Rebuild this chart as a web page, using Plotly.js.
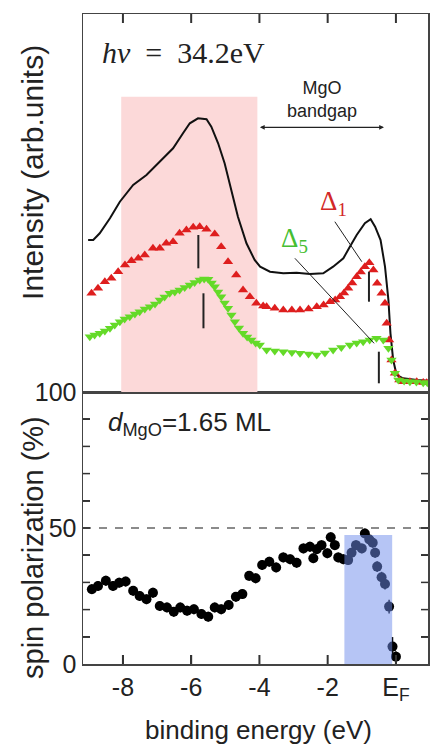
<!DOCTYPE html>
<html>
<head>
<meta charset="utf-8">
<script src="https://cdn.plot.ly/plotly-3.0.1.min.js"></script>
<style>html,body{margin:0;padding:0;background:#fff;}#chart{width:431px;height:749px;}</style>
</head>
<body>
<div id="chart"></div>
<script>
// ---- Data (binding energy in eV) ----
// Top panel: intensity, arbitrary units
var E_total = [-9.02,-8.87,-8.68,-8.38,-8.09,-7.70,-7.31,-6.92,-6.53,-6.24,-6.04,-5.80,-5.55,-5.41,-5.21,-5.02,-4.82,-4.63,-4.38,-4.14,-3.98,-3.69,-3.30,-2.91,-2.52,-2.13,-1.84,-1.54,-1.35,-1.15,-0.91,-0.74,-0.61,-0.45,-0.32,-0.22,-0.16,-0.08,0.02,0.21,0.61,0.94];
var I_total = [152,152,158.7,173.7,190.3,207,217,230.3,243.7,258.7,268.7,273.7,272.7,265.3,248.7,228.7,202,175.3,148.7,132,125.3,120.3,118.7,119.3,118,118.7,125.3,133.7,145.3,157,168.7,172.7,165.3,152,125.3,92,58.7,32,17,13.7,12,11.3];

var E_delta1 = [-8.92,-8.73,-8.53,-8.34,-8.14,-7.94,-7.75,-7.55,-7.36,-7.12,-6.92,-6.73,-6.53,-6.34,-6.14,-5.94,-5.75,-5.55,-5.31,-5.12,-4.92,-4.68,-4.48,-4.28,-4.09,-3.89,-3.79,-3.55,-3.30,-3.05,-2.81,-2.56,-2.32,-2.12,-1.93,-1.78,-1.64,-1.52,-1.40,-1.28,-1.15,-1.03,-0.91,-0.78,-0.66,-0.55,-0.42,-0.32,-0.27,-0.20,-0.13,-0.03,0.10,0.21,0.41,0.61,0.80,0.90];
var I_delta1 = [98.7,103.7,110.3,113.7,120.3,127,131.3,133.7,137,143.7,143.7,148.7,150.3,158.7,162,164.7,165.3,162.7,158,145.3,130.3,117,102,95.3,88.7,86,85.3,83.7,82,82,82,83,85.3,87,90.3,92,95.3,99,103.7,109,115.3,120,125.3,129.3,122,108.7,98.7,88.7,68.7,52,32,18.7,12,10.3,10.3,10.3,9.5,9.3];

var E_delta5 = [-8.97,-8.83,-8.68,-8.53,-8.38,-8.24,-8.09,-7.95,-7.80,-7.65,-7.51,-7.36,-7.21,-7.06,-6.92,-6.78,-6.63,-6.48,-6.34,-6.19,-6.04,-5.90,-5.75,-5.62,-5.50,-5.40,-5.31,-5.21,-5.12,-5.02,-4.92,-4.82,-4.72,-4.60,-4.48,-4.36,-4.24,-4.11,-3.99,-3.79,-3.55,-3.30,-3.05,-2.81,-2.56,-2.32,-2.08,-1.84,-1.60,-1.35,-1.15,-0.96,-0.77,-0.57,-0.37,-0.22,-0.13,-0.03,0.07,0.24,0.41,0.60,0.80,0.92];
var I_delta5 = [55.3,57,58.7,61,63.7,67,70.3,73,75.3,78,80.3,83,85.3,88,92,95,98.7,100,102,104.5,107,109.5,112,113,112.7,109,105.3,100,95.3,89,83.7,77,70.3,64,58.7,55,52,49,47,42,41,40.3,39.5,38.7,38,37,39,42,44.5,47,49,50.3,52,53.7,52,43.7,32,18.7,12,11,10.3,10,9.3,9.3];

// Bottom panel: spin polarization (%)
var E_spin = [-8.91,-8.73,-8.50,-8.29,-8.11,-7.92,-7.70,-7.51,-7.31,-7.12,-6.92,-6.71,-6.51,-6.32,-6.12,-5.92,-5.70,-5.50,-5.31,-5.12,-4.90,-4.69,-4.50,-4.30,-4.11,-3.92,-3.71,-3.51,-3.30,-3.10,-2.91,-2.71,-2.52,-2.42,-2.32,-2.18,-2.01,-1.91,-1.79,-1.69,-1.54,-1.40,-1.30,-1.17,-1.00,-0.91,-0.78,-0.68,-0.61,-0.55,-0.42,-0.32,-0.20,-0.10,0.00];
var P_spin = [27.5,28.7,30.6,28.7,29.9,30.3,26.9,25.0,23.8,26.2,21.3,20.8,19.2,20.8,19.6,20.1,18.4,17.4,20.8,20.1,21.7,24.7,25.7,32.4,31.5,36.4,37.6,35.5,39.2,38.5,37.2,42.5,43.1,38.9,42.2,43.7,40.7,46.6,43.7,39.2,38.5,38.2,40.9,43.7,42.5,48.0,45.8,44.6,40.9,35.8,31.9,29.4,21.1,6.4,2.7];
var P_err = [1.8,1.8,1.8,1.8,1.8,1.8,1.8,1.8,1.8,1.8,1.8,1.8,1.8,1.8,1.8,1.8,1.8,1.8,1.8,1.8,1.8,1.8,1.8,1.8,1.8,1.8,1.8,1.8,1.8,1.8,1.8,1.8,1.8,1.8,1.8,1.8,1.8,1.8,1.8,1.8,1.8,1.8,1.8,1.8,1.8,1.8,1.8,1.8,1.8,2,2,2,2.5,3.5,2];

// Tick labels
var xTickVals = [-8,-6,-4,-2,0];
var xTickText = ['-8','-6','-4','-2','E<sub>F</sub>'];
var yTickVals = [0,10,20,30,40,50,60,70,80,90,100];
var yTickText = ['0',' ',' ',' ',' ','50',' ',' ',' ',' ','100'];

// Annotated regions and guide marks
var valenceBand = [-8.05,-4.06];      // pink region (eV)
var halfMetalWindow = [-1.51,-0.11];  // blue region (eV)
var halfMetalTop = 47.4;
var bandgap = [-4.03,-0.35];
var peakMarks = [ // [E, I_low, I_high]
  [-5.79,123.7,157], [-5.64,63.7,98.7], [-0.79,90.3,120.3], [-0.50,8.7,40.3]
];
var leaderD1 = [[-1.79,170.3],[-1.00,130.3]];
var leaderD5 = [[-2.96,133.7],[-0.64,48.7]];

var lineCol = '#444';
var tickCol = '#333';
var font = 'Liberation Sans, Arial, sans-serif';
var serif = 'Liberation Serif, Times New Roman, serif';
var nb = '\u00A0';

var split = 272/650;
var xr = [-9.17, 0.94];
var yTopRange = [0, 378];
var plotW = 431 - 83 - 3, botH = 272, topH = 378;

var traces = [
  {x:E_total, y:I_total, xaxis:'x2', yaxis:'y2', mode:'lines', line:{color:'#111', width:2}, hoverinfo:'skip'},
  {x:E_delta1, y:I_delta1, xaxis:'x2', yaxis:'y2', mode:'markers', marker:{symbol:'triangle-up', size:9, color:'rgb(222,30,30)'}},
  {x:E_delta5, y:I_delta5, xaxis:'x2', yaxis:'y2', mode:'markers', marker:{symbol:'triangle-down', size:9, color:'rgb(100,218,40)'}},
  {x:E_spin, y:P_spin, xaxis:'x', yaxis:'y', mode:'markers', marker:{symbol:'circle', size:10, color:'#000'},
   error_y:{type:'data', array:P_err, visible:true, color:'#000', thickness:1.5, width:0}}
];

var shapes = [
  {type:'rect', xref:'x2', yref:'y2', x0:valenceBand[0], x1:valenceBand[1], y0:0, y1:295.3, fillcolor:'rgb(252,217,217)', line:{width:0}, layer:'below'},
  {type:'rect', xref:'x', yref:'y', x0:halfMetalWindow[0], x1:halfMetalWindow[1], y0:0, y1:halfMetalTop, fillcolor:'rgb(110,140,235)', opacity:0.5, line:{width:0}, layer:'above'},
  {type:'line', xref:'paper', yref:'y', x0:0, x1:1, y0:50, y1:50, line:{color:'#666', width:1.5, dash:'8px,8px'}},
  {type:'line', xref:'x2', yref:'y2', x0:leaderD1[0][0], y0:leaderD1[0][1], x1:leaderD1[1][0], y1:leaderD1[1][1], line:{color:'#222', width:1}},
  {type:'line', xref:'x2', yref:'y2', x0:leaderD5[0][0], y0:leaderD5[0][1], x1:leaderD5[1][0], y1:leaderD5[1][1], line:{color:'#222', width:1}}
];
peakMarks.forEach(function(p){
  shapes.push({type:'line', xref:'x2', yref:'y2', x0:p[0], x1:p[0], y0:p[1], y1:p[2], line:{color:'#222', width:2}});
});
// Inward tick marks, placed at the axes' own tick values
var tkX = 9, tkY = 7;
xTickVals.forEach(function(v){
  shapes.push({type:'line', xref:'x', yref:'y', x0:v, x1:v, y0:0, y1:100*tkX/botH, line:{color:tickCol, width:2}, layer:'above'});
  shapes.push({type:'line', xref:'x2', yref:'y2', x0:v, x1:v, y0:yTopRange[1], y1:yTopRange[1]-(yTopRange[1]-yTopRange[0])*tkX/topH, line:{color:tickCol, width:2}, layer:'above'});
});
yTickVals.forEach(function(v){
  if (v === 0 || v === 100) return;
  shapes.push({type:'line', xref:'paper', yref:'y', x0:0, x1:tkY/plotW, y0:v, y1:v, line:{color:tickCol, width:1.5}, layer:'above'});
  shapes.push({type:'line', xref:'paper', yref:'y', x0:1-tkY/plotW, x1:1, y0:v, y1:v, line:{color:tickCol, width:1.5}, layer:'above'});
});

var annotations = [
  {xref:'x2', yref:'y2', x:-8.67, y:340, xanchor:'left', yanchor:'middle', showarrow:false,
   text:'<i>hν</i>'+nb+nb+'='+nb+nb+'34.2eV', font:{family:serif, size:30, color:'#222'}},
  {xref:'x2', yref:'y2', x:-2.18, y:293, xanchor:'center', yanchor:'middle', showarrow:false,
   text:'MgO<br>bandgap', font:{family:font, size:18, color:'#222'}},
  {xref:'x2', yref:'y2', axref:'x2', ayref:'y2', x:bandgap[1], y:264.7, ax:bandgap[0], ay:264.7, text:'',
   showarrow:true, arrowhead:2, startarrowhead:2, arrowside:'end+start', arrowsize:0.8, arrowwidth:1.2, arrowcolor:'#222', standoff:0, startstandoff:0},
  {xref:'x2', yref:'y2', x:-1.82, y:189, xanchor:'center', yanchor:'middle', showarrow:false,
   text:'Δ<sub>1</sub>', font:{family:serif, size:27, color:'rgb(210,40,40)'}},
  {xref:'x2', yref:'y2', x:-2.96, y:152, xanchor:'center', yanchor:'middle', showarrow:false,
   text:'Δ<sub>5</sub>', font:{family:serif, size:27, color:'rgb(70,190,50)'}},
  {xref:'x', yref:'y', x:-8.49, y:88.6, xanchor:'left', yanchor:'middle', showarrow:false,
   text:'<i>d</i><sub>MgO</sub>=1.65 ML', font:{family:font, size:26, color:'#222'}},
  {xref:'paper', yref:'paper', x:-0.145, y:0.757, xanchor:'center', yanchor:'middle', showarrow:false, textangle:-90,
   text:'Intensity (arb.units)', font:{family:font, size:30, color:'#222'}},
  {xref:'paper', yref:'paper', x:-0.145, y:0.18, xanchor:'center', yanchor:'middle', showarrow:false, textangle:-90,
   text:'spin polarization (%)', font:{family:font, size:29, color:'#222'}},
  {xref:'paper', yref:'paper', x:0.509, y:-0.1015, xanchor:'center', yanchor:'middle', showarrow:false,
   text:'binding energy (eV)', font:{family:font, size:26, color:'#222'}}
];

var layout = {
  width:431, height:749,
  margin:{l:83, r:3, t:14, b:85},
  paper_bgcolor:'#fff', plot_bgcolor:'rgba(0,0,0,0)',
  showlegend:false,
  font:{family:font, color:'#222'},
  xaxis:{anchor:'y', range:xr, tickvals:xTickVals, ticktext:xTickText, ticks:'inside', ticklen:tkX, tickwidth:1.5, tickcolor:lineCol,
         showline:true, linecolor:lineCol, linewidth:1.5, mirror:true, showgrid:false, zeroline:false, tickfont:{size:25, family:font, color:'#222'}},
  xaxis2:{anchor:'y2', range:xr, side:'top', tickvals:xTickVals, ticks:'inside', ticklen:tkX, showticklabels:false,
         showline:true, linecolor:lineCol, linewidth:1.5, mirror:true, showgrid:false, zeroline:false},
  yaxis:{domain:[0,split], anchor:'x', range:[0,100], tickvals:yTickVals, ticktext:yTickText, ticks:'inside', ticklen:tkY, tickwidth:1.5, tickcolor:lineCol,
         showline:true, linecolor:lineCol, linewidth:1.5, mirror:'ticks', showgrid:false, zeroline:false, tickfont:{size:25, family:font, color:'#222'}},
  yaxis2:{domain:[split,1], anchor:'x2', range:yTopRange, showticklabels:false,
         showline:true, linecolor:lineCol, linewidth:1.5, mirror:true, showgrid:false, zeroline:false},
  shapes:shapes,
  annotations:annotations
};

Plotly.newPlot('chart', traces, layout, {displayModeBar:false, staticPlot:true});
</script>
</body>
</html>
